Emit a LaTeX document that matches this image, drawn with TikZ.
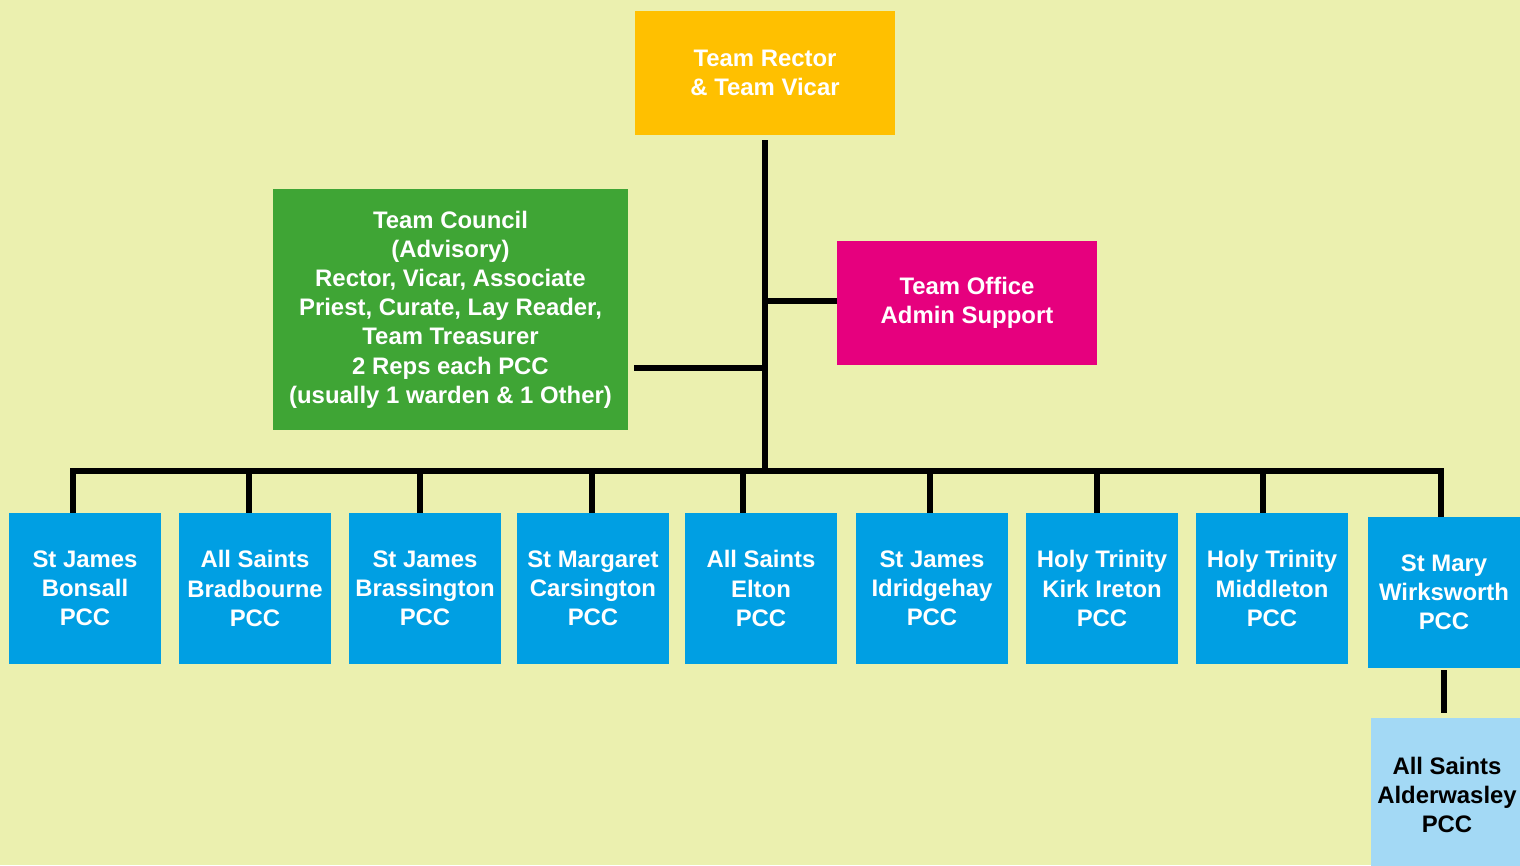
\documentclass[tikz,border=0pt]{standalone}
\usepackage{fontspec}
\setmainfont{Liberation Sans}
\usetikzlibrary{positioning}
\definecolor{bgcolor}{RGB}{235, 240, 175}
\definecolor{rectorcolor}{RGB}{255, 192, 0}
\definecolor{councilcolor}{RGB}{63, 165, 53}
\definecolor{officecolor}{RGB}{230, 0, 126}
\definecolor{pcccolor}{RGB}{0, 159, 227}
\definecolor{subpcccolor}{RGB}{163, 217, 245}

\begin{document}
\begin{tikzpicture}[
    x=0.02cm, y=-0.02cm,
    box/.style={rectangle, inner sep=0pt, align=center, text=white, font=\fontsize{13.6}{16.6}\selectfont\bfseries},
    topbox/.style={box, minimum width=5.2cm, minimum height=2.48cm},
    pccbox/.style={box, fill=pcccolor, minimum width=3.04cm, minimum height=3.02cm},
    link/.style={line width=3.1pt},
]

% ============ background ============
\fill[bgcolor] (0,0) rectangle (1520,865);
\clip (0,0) rectangle (1520,865);

% ============ top ============
\node[topbox, fill=rectorcolor] (rector) at (765,73) {Team Rector\\\& Team Vicar};

\node[box, fill=councilcolor, minimum width=7.1cm, minimum height=4.82cm] (council) at (450.5,309.5)
      {Team Council\\(Advisory)\\Rector, Vicar, Associate\\Priest, Curate, Lay Reader,\\Team Treasurer\\2 Reps each PCC\\(usually 1 warden \& 1 Other)};

\node[topbox, fill=officecolor] (office) at (967,303) {Team Office\\Admin Support};

% ============ PCCs ============
\node[pccbox] (bonsall) at (85,588.5) {St James\\Bonsall\\PCC};
\node[pccbox] (bradbourne) at (255,588.5) {All Saints\\Bradbourne\\PCC};
\node[pccbox] (brassington) at (425,588.5) {St James\\Brassington\\PCC};
\node[pccbox] (carsington) at (593,588.5) {St Margaret\\Carsington\\PCC};
\node[pccbox] (elton) at (761,588.5) {All Saints\\Elton\\PCC};
\node[pccbox] (idridgehay) at (932,588.5) {St James\\Idridgehay\\PCC};
\node[pccbox] (kirkireton) at (1102,588.5) {Holy Trinity\\Kirk Ireton\\PCC};
\node[pccbox] (middleton) at (1272,588.5) {Holy Trinity\\Middleton\\PCC};
\node[pccbox] (wirksworth) at (1444,592.5) {St Mary\\Wirksworth\\PCC};
\node[pccbox, fill=subpcccolor, text=black, minimum height=3.08cm] (alderwasley) at (1447,795) {All Saints\\Alderwasley\\PCC};

% ============ lines ============
\coordinate (bus) at (765,471);
\draw[link] ([yshift=-0.1cm]rector.south) -- (bus);
\draw[link] ([xshift=0.12cm]council.east |- 0,368) -- (765,368);
\draw[link] (765,301) -- (office.west |- 0,301);
\draw[link] (73,0 |- bonsall.north) -- (73,471) -- (1441,471) -- (1441,0 |- wirksworth.north);
\foreach \x/\n in {249/bradbourne, 420/brassington, 592/carsington, 743/elton, 930/idridgehay, 1097/kirkireton, 1263/middleton}
    \draw[link] (\x,471) -- (\x,0 |- \n.north);
\draw[link] ([yshift=-0.04cm]wirksworth.south) -- ([yshift=0.1cm]wirksworth.south |- alderwasley.north);

\end{tikzpicture}
\end{document}
